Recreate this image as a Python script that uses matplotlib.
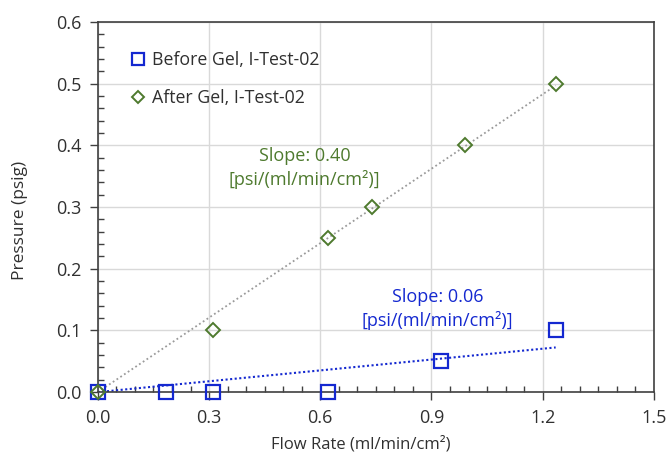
import numpy as np
import matplotlib
matplotlib.use("Agg")
import matplotlib.pyplot as plt
from matplotlib.ticker import MultipleLocator

before_x = [0.0, 0.185, 0.31, 0.62, 0.925, 1.235]
before_y = [0.0, 0.0, 0.0, 0.0, 0.05, 0.10]
after_x = [0.0, 0.31, 0.62, 0.74, 0.99, 1.235]
after_y = [0.0, 0.10, 0.25, 0.30, 0.40, 0.50]

plt.rcParams['font.family'] = ['Open Sans', 'DejaVu Sans']

blue = '#1428D0'
green = '#4E7A2E'

fig = plt.figure(figsize=(6.7, 4.57), dpi=100)
ax = fig.add_axes([0.146, 0.142, 0.83, 0.81])

bx = np.array(before_x); by = np.array(before_y)
axx = np.array(after_x); ay = np.array(after_y)
kb = (bx * by).sum() / (bx ** 2).sum()
ka = (axx * ay).sum() / (axx ** 2).sum()
xl = np.array([0.0, max(before_x)])
ax.plot(xl, ka * xl, linestyle=(0, (1, 1.5)), color='#9A9A9A', lw=1.3, zorder=2)
ax.plot(xl, kb * xl, linestyle=(0, (1, 1.2)), color=blue, lw=1.5, zorder=2)

ax.plot(before_x, before_y, 's', ms=9.5, mfc='none', mec=blue, mew=1.6,
        label='Before Gel, I-Test-02', zorder=3, clip_on=False)
ax.plot(after_x, after_y, 'D', ms=7, mfc='none', mec=green, mew=1.4,
        label='After Gel, I-Test-02', zorder=3, clip_on=False)

ax.set_xlim(0, 1.5)
ax.set_ylim(0, 0.6)
ax.xaxis.set_major_locator(MultipleLocator(0.3))
ax.xaxis.set_minor_locator(MultipleLocator(0.05))
ax.yaxis.set_major_locator(MultipleLocator(0.1))
ax.yaxis.set_minor_locator(MultipleLocator(0.02))
ax.xaxis.set_major_formatter(plt.FuncFormatter(lambda v, p: f'{v:.1f}'))
ax.yaxis.set_major_formatter(plt.FuncFormatter(lambda v, p: f'{v:.1f}'))
ax.tick_params(which='major', direction='out', length=6, width=1, color='#404040',
               labelsize=13, labelcolor='#303030', pad=6)
ax.tick_params(which='minor', direction='in', length=4, width=1, color='#404040')
ax.grid(True, which='major', color='#D9D9D9', lw=1)
ax.set_axisbelow(True)
for s in ax.spines.values():
    s.set_color('#404040')
    s.set_linewidth(1.2)

ax.set_xlabel('Flow Rate (ml/min/cm²)', fontsize=12, color='#303030', labelpad=6)
ax.xaxis.set_label_coords(0.473, -0.118)
ax.set_ylabel('Pressure (psig)', fontsize=12.5, color='#303030')
ax.yaxis.set_label_coords(-0.125, 0.465)

ax.text(0.558, 0.363, 'Slope: 0.40\n[psi/(ml/min/cm²)]', color=green, fontsize=13,
        ha='center', va='center', linespacing=1.3)
ax.text(0.917, 0.135, 'Slope: 0.06\n[psi/(ml/min/cm²)]', color=blue, fontsize=13,
        ha='center', va='center', linespacing=1.3)

leg = ax.legend(loc='upper left', bbox_to_anchor=(0.02, 0.965), frameon=False,
                fontsize=12.8, handletextpad=0.0, labelspacing=1.15, handlelength=1.5,
                markerscale=0.85)
for t in leg.get_texts():
    t.set_color('#303030')

fig.savefig('out.png', dpi=100)
